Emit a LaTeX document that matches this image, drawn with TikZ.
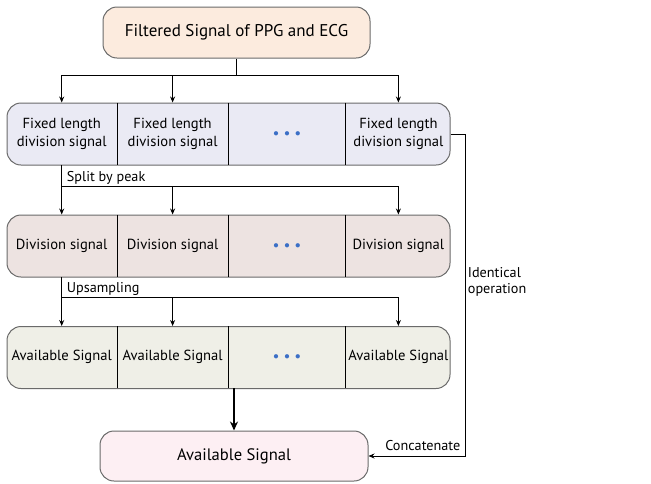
\documentclass[tikz,border=0pt]{standalone}
\usepackage{fontspec}
\setmainfont{PT Sans}
\usetikzlibrary{positioning,arrows.meta}

\definecolor{topfill}{HTML}{FCEBDE}
\definecolor{rowafill}{HTML}{EAEAF4}
\definecolor{rowbfill}{HTML}{EDE3E1}
\definecolor{rowcfill}{HTML}{EFEFE7}
\definecolor{endfill}{HTML}{FDEFF3}
\definecolor{edge}{HTML}{6A6A6A}
\definecolor{dotblue}{HTML}{3B6FC6}

\tikzset{
  capbox/.style={draw=edge, line width=1pt, rounded corners=14pt, minimum width=267pt, minimum height=51pt, font=\fontsize{17}{20}\selectfont},
  rowbox/.style={draw=edge, line width=1pt, rounded corners=14pt, minimum width=443pt, minimum height=62pt},
  cellbox/.style={inner sep=0pt, minimum height=62pt, align=center, font=\fontsize{14.6}{17.5}\selectfont},
  divider/.style={line width=0.8pt},
  wire/.style={line width=0.9pt},
  link/.style={wire, -{Stealth[length=6pt,width=5pt]}},
  lbl/.style={font=\fontsize{14.2}{16}\selectfont, inner sep=2pt}
}
\newcommand{\moredots}{{\fontsize{10.5}{12}\selectfont\color{dotblue}$\bullet\;\bullet\;\bullet$}}

\begin{document}
\begin{tikzpicture}[x=1pt,y=-1pt]
\useasboundingbox (0,0) rectangle (651,483);

% source and result
\node[capbox, fill=topfill] (top) at (236.5,32.5) {Filtered Signal of PPG and ECG};
\node[capbox, fill=endfill, minimum width=268pt, minimum height=50pt, font=\fontsize{16.6}{19}\selectfont] (bottom) at (234,456) {Available Signal};

% row 1
\node[rowbox, fill=rowafill] (row1) at (228.5,134) {};
\node[cellbox, minimum width=110pt, anchor=north west] (a1) at (row1.north west) {Fixed length\\division signal};
\node[cellbox, minimum width=111pt, right=0pt of a1] (a2) {Fixed length\\division signal};
\node[cellbox, minimum width=117pt, right=0pt of a2] (a3) {\moredots};
\node[cellbox, minimum width=105pt, right=0pt of a3] (a4) {Fixed length\\division signal};

% row 2
\node[rowbox, fill=rowbfill] (row2) at (228.5,246) {};
\node[cellbox, minimum width=110pt, anchor=north west] (b1) at (row2.north west) {Division signal};
\node[cellbox, minimum width=111pt, right=0pt of b1] (b2) {Division signal};
\node[cellbox, minimum width=117pt, right=0pt of b2] (b3) {\moredots};
\node[cellbox, minimum width=105pt, right=0pt of b3] (b4) {Division signal};

% row 3
\node[rowbox, fill=rowcfill] (row3) at (228.5,357.5) {};
\node[cellbox, minimum width=110pt, anchor=north west] (c1) at (row3.north west) {Available Signal};
\node[cellbox, minimum width=111pt, right=0pt of c1] (c2) {Available Signal};
\node[cellbox, minimum width=117pt, right=0pt of c2] (c3) {\moredots};
\node[cellbox, minimum width=105pt, right=0pt of c3] (c4) {Available Signal};

% cell borders
\foreach \r in {a,b,c}{
  \foreach \i in {1,2,3}{
    \draw[divider] (\r\i.north east) -- (\r\i.south east);
  }
}

% fan out from the source
\coordinate[below=17pt of top.south] (fork1);
\draw[wire] (top.south) -- (fork1);
\draw[link] (fork1) -| (a1.north);
\draw[link] (fork1) -| (a2.north);
\draw[link] (fork1) -| (a4.north);

% split by peak
\coordinate[below=22pt of a1.south] (fork2);
\draw[wire] (a1.south) -- (fork2);
\draw[link] (fork2) -| (b1.north);
\draw[link] (fork2) -| (b2.north);
\draw[link] (fork2) -| (b4.north);
\node[lbl, anchor=south west, xshift=3pt] at (fork2) {Split by peak};

% upsampling
\coordinate[below=21pt of b1.south] (fork3);
\draw[wire] (b1.south) -- (fork3);
\draw[link] (fork3) -| (c1.north);
\draw[link] (fork3) -| (c2.north);
\draw[link] (fork3) -| (c4.north);
\node[lbl, anchor=south west, xshift=3pt] at (fork3) {Upsampling};

% merge
\draw[line width=2pt, -{Stealth[length=9pt,width=8pt]}] (c3.south -| bottom.north) -- (bottom.north);

% other rows
\coordinate[right=15pt of row1.east] (turn);
\draw[link] (row1.east) -- (turn) |- (bottom.east)
  node[lbl, pos=0.23, right, align=left] {Identical\\operation}
  node[lbl, pos=0.72, above, yshift=3pt] {Concatenate};
\end{tikzpicture}
\end{document}
